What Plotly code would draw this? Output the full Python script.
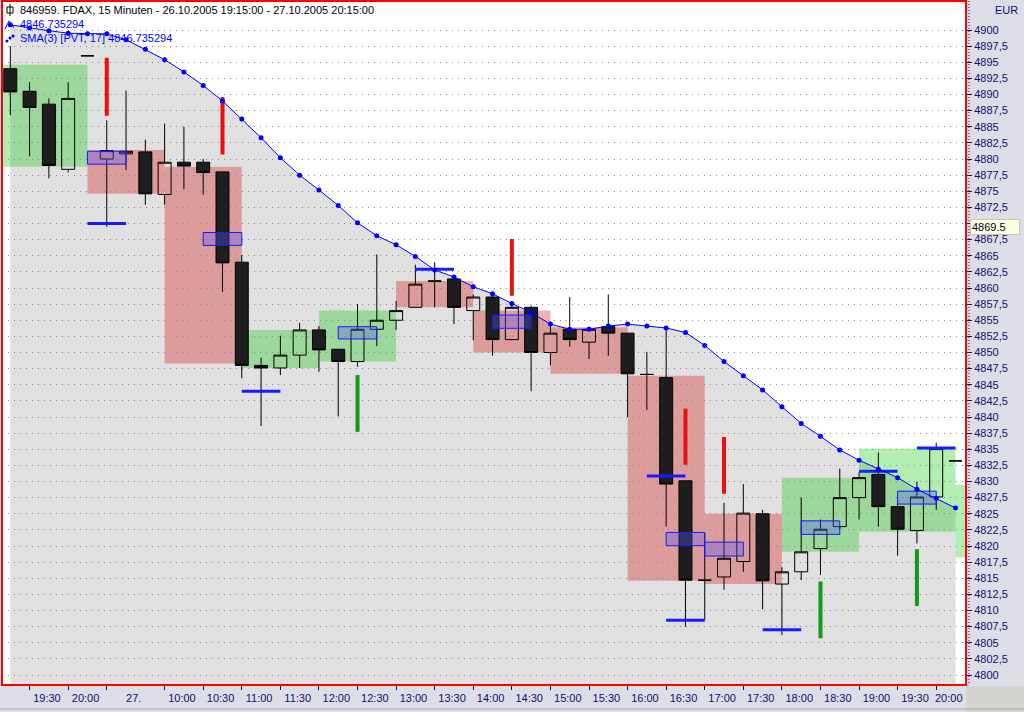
import plotly.graph_objects as go

# -- 15 minute bars, FDAX 26.10.2005 19:15 - 27.10.2005 20:15 ----------------
bar_idx = list(range(1, 51))
opens = [4894.0, 4890.5, 4888.5, 4878.4, 4896.0, 4880.0, 4880.8, 4881.1, 4874.5, 4879.5,
         4879.5, 4878.0, 4864.0, 4848.0, 4847.6, 4849.6, 4853.5, 4850.5, 4848.6, 4853.6,
         4855.0, 4857.0, 4861.0, 4861.4, 4856.5, 4858.6, 4852.0, 4857.0, 4850.0, 4853.6,
         4851.6, 4854.0, 4853.0, 4846.6, 4846.1, 4830.1, 4814.7, 4815.2, 4817.6, 4825.0,
         4814.1, 4816.0, 4819.6, 4823.0, 4827.5, 4831.1, 4826.1, 4822.4, 4827.6, 4833.2]
highs = [4897.5, 4891.9, 4889.4, 4891.9, 4896.0, 4886.0, 4890.6, 4883.0, 4885.5, 4885.0,
         4880.0, 4878.0, 4865.1, 4849.2, 4852.6, 4854.6, 4854.1, 4850.5, 4857.5, 4865.2,
         4858.0, 4863.6, 4864.0, 4861.7, 4859.0, 4858.8, 4857.5, 4857.3, 4854.8, 4858.6,
         4854.0, 4859.0, 4853.0, 4850.1, 4853.7, 4830.1, 4822.0, 4826.7, 4829.6, 4825.6,
         4816.7, 4827.5, 4824.1, 4832.0, 4831.4, 4834.5, 4827.0, 4830.0, 4836.0, 4833.2]
lows = [4886.8, 4880.4, 4877.0, 4877.9, 4896.0, 4869.5, 4878.3, 4872.9, 4872.9, 4875.3,
        4874.5, 4859.4, 4846.0, 4838.6, 4846.5, 4847.6, 4847.0, 4840.1, 4847.8, 4851.0,
        4853.5, 4857.0, 4857.0, 4854.4, 4851.9, 4849.5, 4851.9, 4844.0, 4848.0, 4850.9,
        4849.0, 4849.5, 4840.0, 4841.1, 4823.0, 4807.5, 4808.5, 4813.2, 4816.0, 4810.2,
        4806.2, 4814.7, 4815.5, 4822.6, 4824.1, 4823.0, 4818.5, 4820.4, 4825.6, 4833.2]
closes = [4890.4, 4888.0, 4879.0, 4889.4, 4896.0, 4881.3, 4881.2, 4874.6, 4879.5, 4878.9,
          4877.9, 4863.9, 4848.0, 4847.6, 4849.6, 4853.5, 4850.4, 4848.6, 4853.6, 4855.0,
          4856.5, 4860.6, 4861.1, 4857.0, 4858.6, 4852.0, 4857.0, 4850.0, 4853.0, 4852.0,
          4853.6, 4853.0, 4846.7, 4846.6, 4829.6, 4814.7, 4814.7, 4818.1, 4825.1, 4814.6,
          4816.0, 4819.1, 4822.6, 4827.5, 4830.6, 4826.1, 4822.6, 4827.6, 4835.1, 4833.2]

# SMA(3) [PVT, 17]
sma = [4900.8, 4900.3, 4899.9, 4899.5, 4899.4, 4899.4, 4898.5, 4897.0, 4895.4, 4893.5,
       4891.4, 4889.0, 4886.2, 4883.3, 4880.2, 4877.5, 4875.2, 4872.8, 4870.1, 4868.1,
       4866.7, 4864.9, 4862.8, 4861.7, 4860.2, 4859.1, 4857.6, 4856.2, 4854.4, 4853.6,
       4853.6, 4854.1, 4854.4, 4854.1, 4853.8, 4853.1, 4851.1, 4848.6, 4846.4, 4844.2,
       4841.6, 4839.0, 4837.0, 4834.9, 4833.3, 4831.9, 4830.6, 4828.8, 4827.4, 4825.9]

# range zones (from bar, to bar, low, high)
green_x0 = [0, 13, 17, 41, 45, 50]
green_x1 = [5, 17, 21, 45, 50, 54]
green_lo = [4878.8, 4847.6, 4848.6, 4819.1, 4822.2, 4818.2]
green_hi = [4894.6, 4853.5, 4856.5, 4830.6, 4835.1, 4829.5]
red_x0 = [5, 9, 21, 25, 29, 33, 37]
red_x1 = [9, 13, 25, 29, 33, 37, 41]
red_lo = [4874.6, 4848.3, 4857.0, 4850.0, 4846.7, 4814.6, 4814.1]
red_hi = [4881.4, 4878.8, 4861.1, 4856.5, 4853.9, 4846.4, 4825.0]

# blue boxes around a bar
box_idx = [6, 12, 19, 27, 36, 38, 43, 48]
box_lo = [4879.2, 4866.6, 4852.1, 4853.75, 4820.05, 4818.45, 4821.8, 4826.5]
box_hi = [4881.2, 4868.6, 4854.0, 4855.8, 4822.1, 4820.6, 4823.9, 4828.5]

# blue level marks
level_idx = [6, 14, 23, 35, 36, 41, 46, 49]
level_px = [4870.0, 4844.0, 4862.9, 4830.85, 4808.5, 4807.0, 4831.6, 4835.2]

# sell / buy signal bars
sell_idx = [6, 12, 27, 36, 38]
sell_lo = [4886.7, 4880.7, 4858.8, 4832.6, 4828.1]
sell_hi = [4895.7, 4889.6, 4867.6, 4841.3, 4836.9]
buy_idx = [19, 43, 48]
buy_lo = [4837.7, 4805.7, 4810.7]
buy_hi = [4846.5, 4814.5, 4819.5]

# time axis
tick_idx = [2, 4, 6, 9, 11, 13, 15, 17, 19, 21, 23, 25, 27, 29, 31, 33, 35, 37, 39, 41,
            43, 45, 47, 49]
tick_text = ["19:30", "20:00", "27.", "10:00", "10:30", "11:00", "11:30", "12:00", "12:30",
             "13:00", "13:30", "14:00", "14:30", "15:00", "15:30", "16:00", "16:30", "17:00",
             "17:30", "18:00", "18:30", "19:00", "19:30", "20:00"]

last_price = 4869.5
price_ticks = [4800 + 2.5 * k for k in range(41)]
# the label under the last-price box is hidden
price_text = ["" if abs(v - last_price) < 1.25 else f"{v:g}".replace(".", ",")
              for v in price_ticks]

title_text = "846959. FDAX, 15 Minuten - 26.10.2005 19:15:00 - 27.10.2005 20:15:00"
sma_value = "4846.735294"
sma_name = "SMA(3) [PVT, 17]"

# --- geometry of the window ---------------------------------------------------
W, H = 1024, 712
PL, PR, PT, PB = 2, 966, 1, 685
FONT = "Liberation Sans, Arial, sans-serif"
NAVY = "#101070"


def paper(x, y):
    return (x - PL) / (PR - PL), 1 - (y - PT) / (PB - PT)


def segs(idx, lo, hi):
    xs, ys = [], []
    for i, a, b in zip(idx, lo, hi):
        xs += [i, i, None]
        ys += [a, b, None]
    return xs, ys


fig = go.Figure()

# background: grey area below the SMA + range zones
shapes = []
path = "M " + " L ".join(f"{x},{y}" for x, y in zip(bar_idx, sma))
path += f" L {bar_idx[-1]},4700 L {bar_idx[0]},4700 Z"
shapes.append(dict(type="path", path=path, xref="x", yref="y", layer="below",
                   fillcolor="#e0e0e0", line=dict(width=0)))
for x0, x1, lo, hi in zip(green_x0, green_x1, green_lo, green_hi):
    shapes.append(dict(type="rect", xref="x", yref="y", x0=x0, x1=x1, y0=lo, y1=hi,
                       layer="below", fillcolor="rgba(0,200,0,0.3)", line=dict(width=0)))
for x0, x1, lo, hi in zip(red_x0, red_x1, red_lo, red_hi):
    shapes.append(dict(type="rect", xref="x", yref="y", x0=x0, x1=x1, y0=lo, y1=hi,
                       layer="below", fillcolor="rgba(215,0,0,0.3)", line=dict(width=0)))

fig.add_trace(go.Candlestick(
    x=bar_idx, open=opens, high=highs, low=lows, close=closes,
    increasing=dict(line=dict(color="black", width=1), fillcolor="rgba(0,0,0,0)"),
    decreasing=dict(line=dict(color="black", width=1), fillcolor="#1e1e1e"),
    whiskerwidth=0, hoverinfo="skip", showlegend=False,
))

xs, ys = segs(sell_idx, sell_lo, sell_hi)
fig.add_trace(go.Scatter(x=xs, y=ys, mode="lines", line=dict(color="#e81010", width=4),
                         hoverinfo="skip", showlegend=False))
xs, ys = segs(buy_idx, buy_lo, buy_hi)
fig.add_trace(go.Scatter(x=xs, y=ys, mode="lines", line=dict(color="#189818", width=4),
                         hoverinfo="skip", showlegend=False))

xs, ys = [], []
for i, p in zip(level_idx, level_px):
    xs += [i - 1, i + 1, None]
    ys += [p, p, None]
fig.add_trace(go.Scatter(x=xs, y=ys, mode="lines", line=dict(color="#1a1aff", width=3),
                         hoverinfo="skip", showlegend=False))

xs, ys = [], []
for i, lo, hi in zip(box_idx, box_lo, box_hi):
    xs += [i - 1, i + 1, i + 1, i - 1, i - 1, None]
    ys += [lo, lo, hi, hi, lo, None]
fig.add_trace(go.Scatter(x=xs, y=ys, mode="lines", fill="toself",
                         fillcolor="rgba(90,90,250,0.35)", line=dict(color="#1a1aff", width=1),
                         hoverinfo="skip", showlegend=False))

fig.add_trace(go.Scatter(x=bar_idx, y=sma, mode="lines+markers",
                         line=dict(color="#0000ff", width=1),
                         marker=dict(color="#0000ff", size=5),
                         hoverinfo="skip", showlegend=False))

# frame and decorations
shapes.append(dict(type="rect", xref="paper", yref="paper", x0=0, x1=1, y0=0, y1=1,
                   layer="above", line=dict(color="#ff0000", width=2)))
xa, ya0 = paper(969, PT)
_, ya1 = paper(969, PB)
shapes.append(dict(type="line", xref="paper", yref="paper", x0=xa, x1=xa, y0=ya0, y1=ya1,
                   line=dict(color=NAVY, width=1, dash="1px,2px")))
cx0, cy0 = paper(966, 686)
cx1, cy1 = paper(1024, 712)
shapes.append(dict(type="rect", xref="paper", yref="paper", x0=cx0, x1=cx1, y0=cy0, y1=cy1,
                   fillcolor="#d6d4d0", line=dict(width=0)))
lx0, ly = paper(0, 709)
lx1, _ = paper(1024, 709)
shapes.append(dict(type="line", xref="paper", yref="paper", x0=lx0, x1=lx1, y0=ly, y1=ly,
                   line=dict(color="#a8a8a8", width=1)))

# legend icons
ix0, iy0 = paper(7, 7)
ix1, iy1 = paper(13, 13)
shapes.append(dict(type="rect", xref="paper", yref="paper", x0=ix0, x1=ix1, y0=iy0, y1=iy1,
                   line=dict(color="black", width=1)))
vx, vy0 = paper(10, 4)
_, vy1 = paper(10, 16)
shapes.append(dict(type="line", xref="paper", yref="paper", x0=vx, x1=vx, y0=vy0, y1=vy1,
                   line=dict(color="black", width=1)))
pts = [paper(5, 29), paper(9, 21), paper(14, 28)]
shapes.append(dict(type="path", xref="paper", yref="paper",
                   path="M " + " L ".join(f"{a},{b}" for a, b in pts),
                   line=dict(color="#0000ff", width=1)))
for ppx, ppy in [(7, 41), (10, 38), (13, 36)]:
    a0, b0 = paper(ppx - 1.5, ppy - 1.5)
    a1, b1 = paper(ppx + 1.5, ppy + 1.5)
    shapes.append(dict(type="circle", xref="paper", yref="paper", x0=a0, x1=a1, y0=b0, y1=b1,
                       fillcolor="#0000ff", line=dict(color="#0000ff", width=0)))

annotations = []
for text, ty, col in [(title_text, 10, "black"), (sma_value, 24, "#0000ff"),
                      (f"{sma_name} {sma_value}", 38, "#0000ff")]:
    ax_, ay_ = paper(18, ty)
    annotations.append(dict(text=text, x=ax_, y=ay_, xref="paper", yref="paper",
                            xanchor="left", yanchor="middle", showarrow=False,
                            font=dict(family=FONT, size=11, color=col)))
ex, ey = paper(1020, 10)
annotations.append(dict(text="EUR", x=ex, y=ey, xref="paper", yref="paper",
                        xanchor="right", yanchor="middle", showarrow=False,
                        font=dict(family=FONT, size=11, color=NAVY)))
annotations.append(dict(text=str(last_price), x=1, y=last_price, xref="paper", yref="y",
                        xanchor="left", yanchor="middle", xshift=4, showarrow=False,
                        width=46, height=12, align="left", borderpad=1,
                        bgcolor="#ffffe1", bordercolor="#c8c8b0", borderwidth=1,
                        font=dict(family=FONT, size=11, color="#000030")))

label_pos = []
for k, t in enumerate(tick_idx):
    mid = (t + tick_idx[k + 1]) / 2 if k + 1 < len(tick_idx) else t + 0.75
    label_pos.append(mid - 0.1)

x_lo = 1 - (10.3 - PL) / 19.29
x_hi = 1 + (PR - 10.3) / 19.29
y_hi = 4900 + (30 - PT) / 6.45
y_lo = 4900 - (PB - 30) / 6.45

fig.update_layout(
    width=W, height=H,
    margin=dict(l=PL, r=W - PR, t=PT, b=H - PB, pad=0),
    paper_bgcolor="#dddde6",
    plot_bgcolor="#ffffff",
    font=dict(family=FONT, size=11, color=NAVY),
    showlegend=False,
    boxgap=0.04,
    shapes=shapes,
    annotations=annotations,
    xaxis=dict(
        range=[x_lo, x_hi], showgrid=False, zeroline=False, showline=False,
        rangeslider=dict(visible=False),
        tickmode="array", tickvals=label_pos, ticktext=tick_text, ticks="",
        ticklabelstandoff=5,
        tickfont=dict(family=FONT, size=11, color=NAVY),
        minor=dict(tickmode="array", tickvals=tick_idx, ticks="outside", ticklen=4,
                   tickwidth=1, tickcolor=NAVY, showgrid=False),
    ),
    yaxis=dict(
        range=[y_lo, y_hi], side="right", zeroline=False, showline=False,
        tickmode="array", tickvals=price_ticks, ticktext=price_text,
        ticks="outside", ticklen=5, tickwidth=1, tickcolor=NAVY,
        showgrid=True, gridcolor="#8a8a8a", gridwidth=1, griddash="1px,5px",
        tickfont=dict(family=FONT, size=11, color=NAVY),
    ),
)

fig.write_html("out.html", config={"displayModeBar": False},
               post_script="document.body.style.margin='0';")
